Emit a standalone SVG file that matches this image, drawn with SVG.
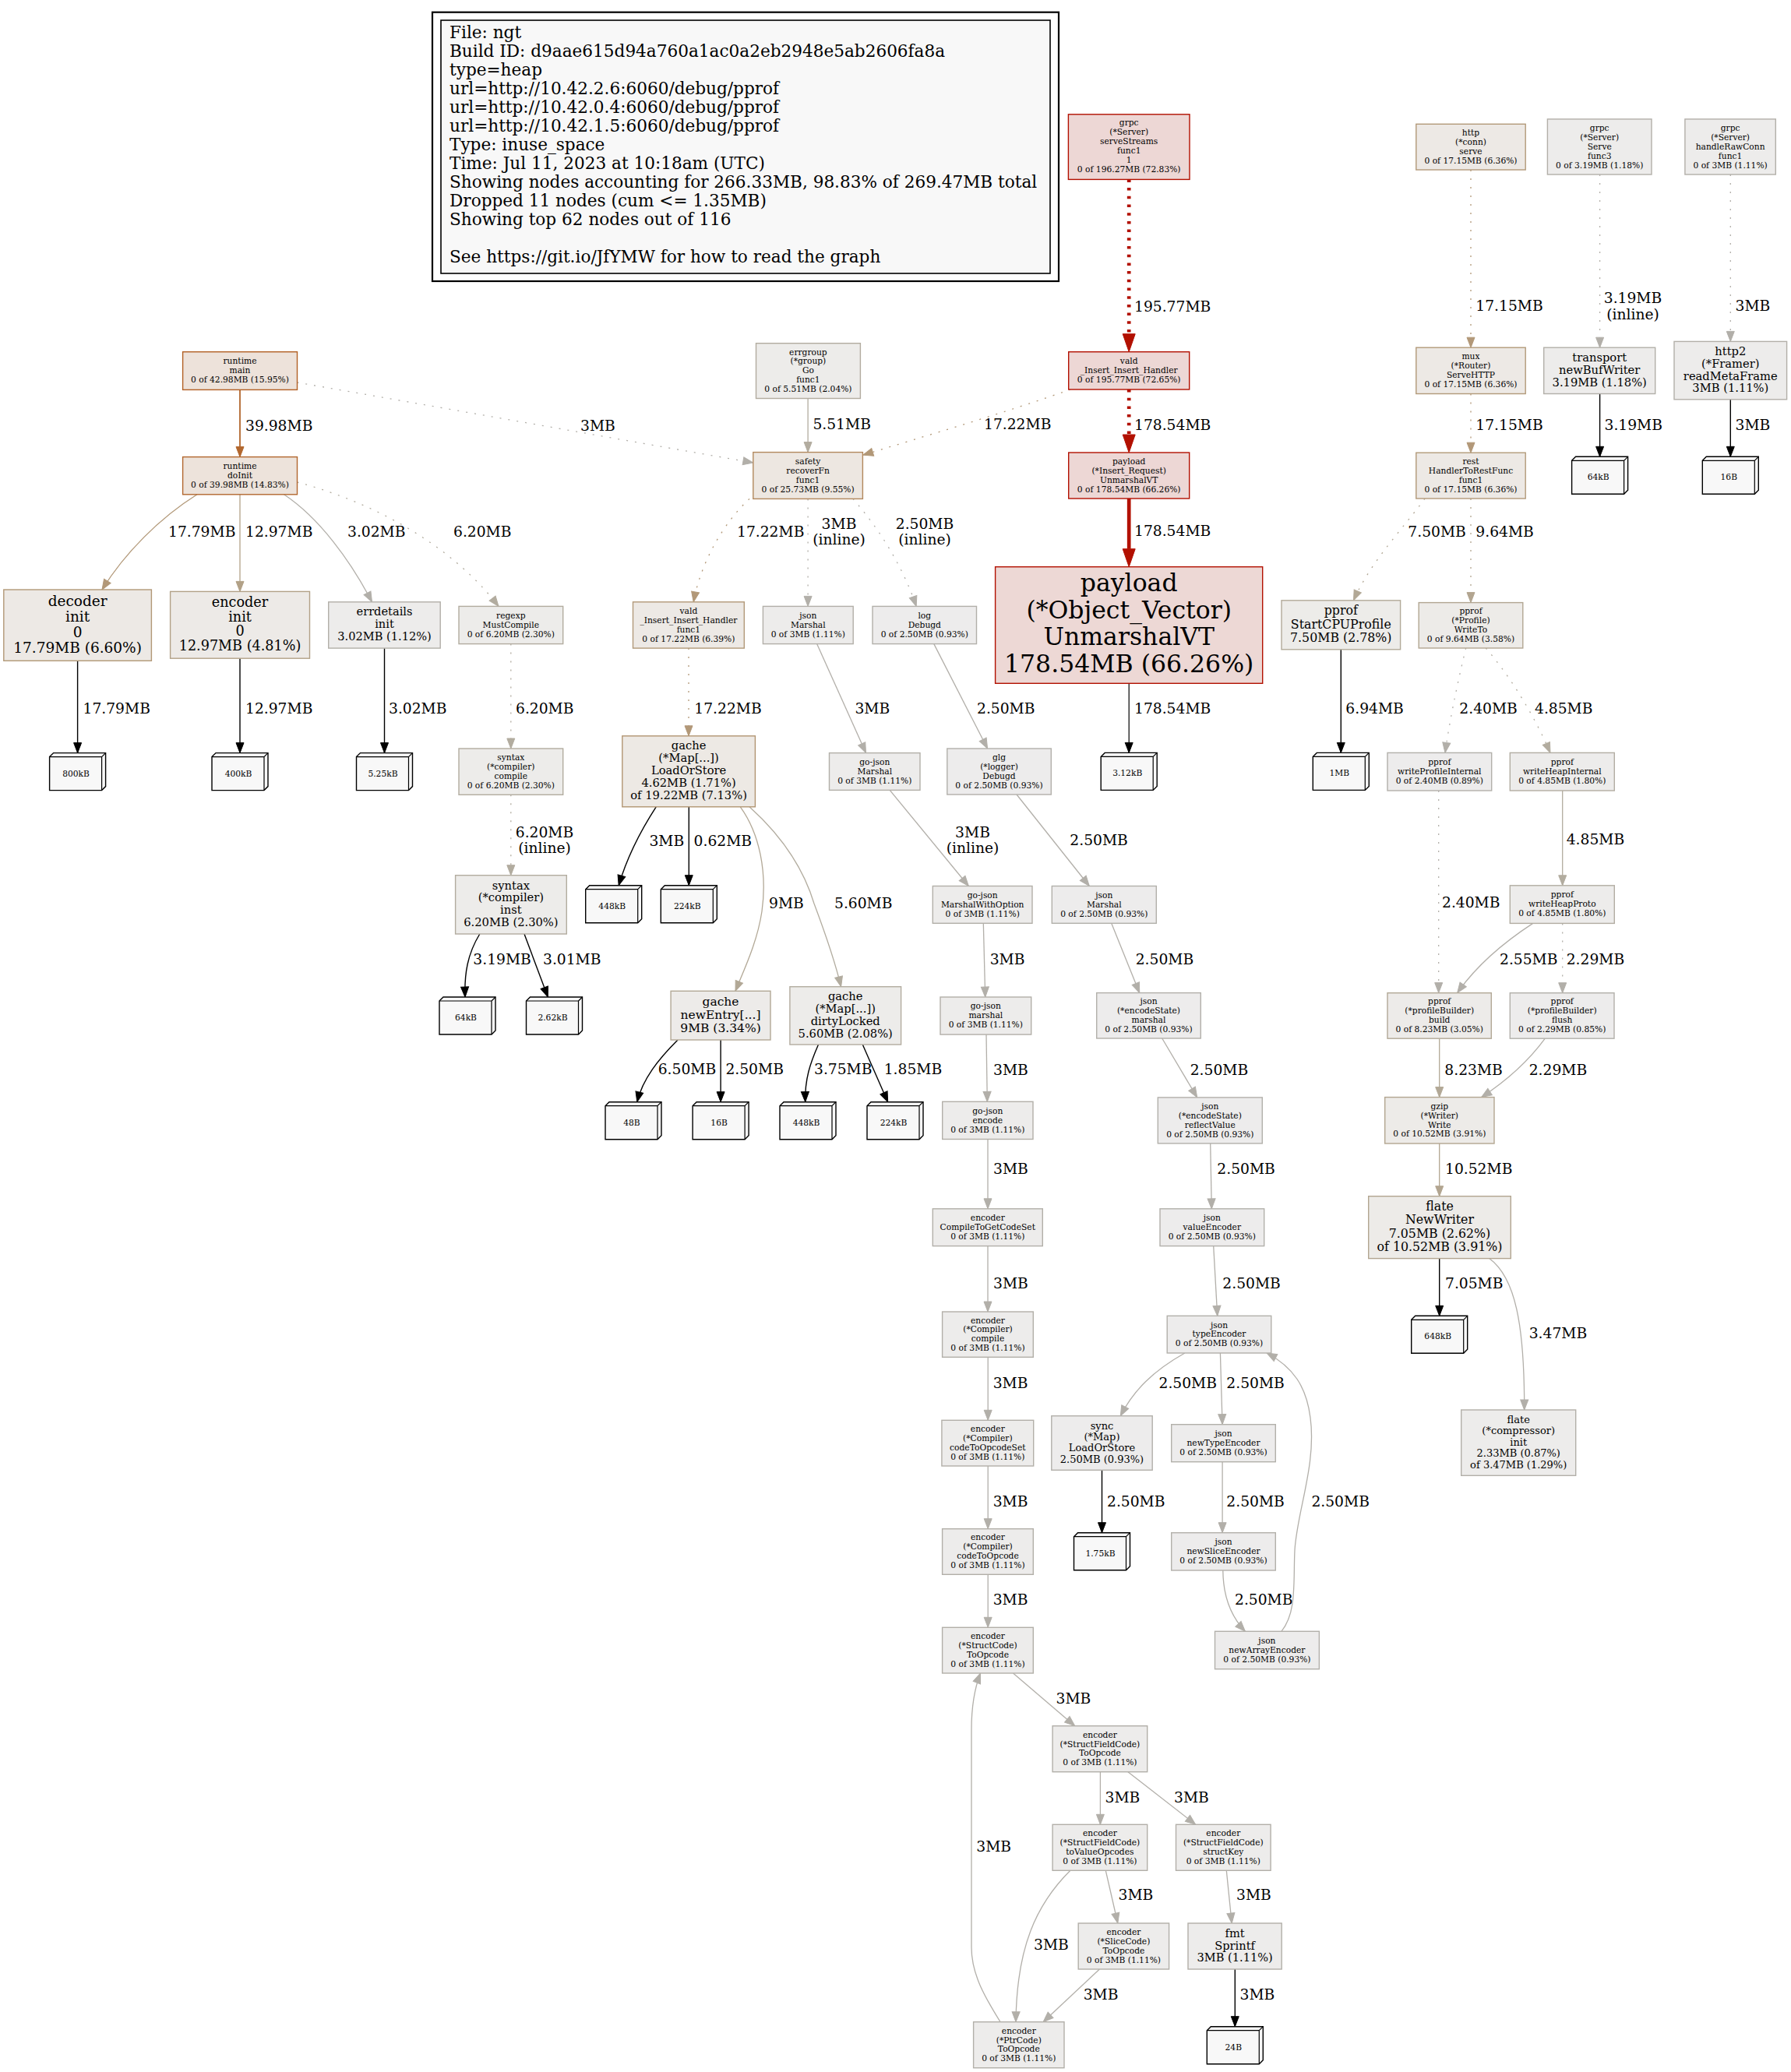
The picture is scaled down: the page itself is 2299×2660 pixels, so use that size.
<svg xmlns="http://www.w3.org/2000/svg" xmlns:xlink="http://www.w3.org/1999/xlink" width="2299" height="2660" viewBox="0 0 2299 2660">
<style>
text{font-family:"DejaVu Serif",serif;fill:#000}
.n{stroke-width:1.4}
.s{font-size:10.7px;text-anchor:middle}
.l{font-size:18.7px}
.lm{font-size:18.7px;text-anchor:middle}
.lg{font-size:21.6px}
.e{fill:none;stroke-width:1.3}
.d{stroke-dasharray:2,9}
.dr{stroke-dasharray:3.5,7.2}
.k{stroke:#000;stroke-width:1.4;marker-end:url(#mk)}
.r{stroke:#b21000;stroke-width:4.7;marker-end:url(#mr)}
.o{stroke:#b2672e;stroke-width:1.8;marker-end:url(#mo)}
.t1{stroke:#b29878;marker-end:url(#mt1)}
.t2{stroke:#b2a187;marker-end:url(#mt2)}
.t3{stroke:#b2a896;marker-end:url(#mt3)}
.t4{stroke:#b2a590;marker-end:url(#mt4)}
.g{stroke:#b2afa9;marker-end:url(#mg)}
.g2{stroke:#b2ac9f;marker-end:url(#mg2)}
.nr{fill:#edd7d5;stroke:#b21000}
.no{fill:#ede2da;stroke:#b26024}
.no2{fill:#ede3db;stroke:#b2672e}
.ns{fill:#ede7e1;stroke:#b2885d}
.nt1{fill:#ede9e5;stroke:#b29979}
.nt2{fill:#edeae7;stroke:#b2a187}
.nt3{fill:#ede9e4;stroke:#b29572}
.nt4{fill:#edebe8;stroke:#b2a590}
.nt5{fill:#edebe9;stroke:#b2a896}
.ng{fill:#edeceb;stroke:#b2afa8}
.ng2{fill:#edecec;stroke:#b2b0aa}
.ng3{fill:#edecea;stroke:#b2ac9f}
.bx{fill:#f8f8f8;stroke:#000;stroke-width:1.4}
.bl{fill:none;stroke:#000;stroke-width:1.2}
</style>
<defs>
<marker id="mk" markerUnits="userSpaceOnUse" markerWidth="14" markerHeight="12" refX="13" refY="6" orient="auto" overflow="visible"><path d="M0,1 L13,6 L0,11 Z" fill="#000" stroke="#000" stroke-width="1"/></marker>
<marker id="mr" markerUnits="userSpaceOnUse" markerWidth="24" markerHeight="17" refX="0" refY="8" orient="auto" overflow="visible"><path d="M0,0 L23,8 L0,16 Z" fill="#b21000" stroke="#b21000" stroke-width="1"/></marker>
<marker id="mo" markerUnits="userSpaceOnUse" markerWidth="14" markerHeight="12" refX="13" refY="6" orient="auto" overflow="visible"><path d="M0,1 L13,6 L0,11 Z" fill="#b2672e" stroke="#b2672e" stroke-width="1"/></marker>
<marker id="mt1" markerUnits="userSpaceOnUse" markerWidth="14" markerHeight="12" refX="13" refY="6" orient="auto" overflow="visible"><path d="M0,1 L13,6 L0,11 Z" fill="#b29878" stroke="#b29878" stroke-width="1"/></marker>
<marker id="mt2" markerUnits="userSpaceOnUse" markerWidth="14" markerHeight="12" refX="13" refY="6" orient="auto" overflow="visible"><path d="M0,1 L13,6 L0,11 Z" fill="#b2a187" stroke="#b2a187" stroke-width="1"/></marker>
<marker id="mt3" markerUnits="userSpaceOnUse" markerWidth="14" markerHeight="12" refX="13" refY="6" orient="auto" overflow="visible"><path d="M0,1 L13,6 L0,11 Z" fill="#b2a896" stroke="#b2a896" stroke-width="1"/></marker>
<marker id="mt4" markerUnits="userSpaceOnUse" markerWidth="14" markerHeight="12" refX="13" refY="6" orient="auto" overflow="visible"><path d="M0,1 L13,6 L0,11 Z" fill="#b2a590" stroke="#b2a590" stroke-width="1"/></marker>
<marker id="mg" markerUnits="userSpaceOnUse" markerWidth="14" markerHeight="12" refX="13" refY="6" orient="auto" overflow="visible"><path d="M0,1 L13,6 L0,11 Z" fill="#b2afa9" stroke="#b2afa9" stroke-width="1"/></marker>
<marker id="mg2" markerUnits="userSpaceOnUse" markerWidth="14" markerHeight="12" refX="13" refY="6" orient="auto" overflow="visible"><path d="M0,1 L13,6 L0,11 Z" fill="#b2ac9f" stroke="#b2ac9f" stroke-width="1"/></marker>
<g id="b3"><path class="bx" d="M0,5 L5,0 L72,0 L72,43 L67,48 L0,48 Z"/><path class="bl" d="M0,5 L67,5 L67,48 M67,5 L72,0"/></g>
</defs>
<rect width="2299" height="2660" fill="#fff"/>

<g id="legend">
<rect x="555" y="15.7" width="804" height="345.3" fill="#fff" stroke="#000" stroke-width="2.2"/>
<rect x="566" y="26" width="782" height="325" fill="#f8f8f8" stroke="#000" stroke-width="1.6"/>
<text class="lg" x="577" y="49">File: ngt</text>
<text class="lg" x="577" y="73">Build ID: d9aae615d94a760a1ac0a2eb2948e5ab2606fa8a</text>
<text class="lg" x="577" y="97">type=heap</text>
<text class="lg" x="577" y="121">url=http://10.42.2.6:6060/debug/pprof</text>
<text class="lg" x="577" y="145">url=http://10.42.0.4:6060/debug/pprof</text>
<text class="lg" x="577" y="169">url=http://10.42.1.5:6060/debug/pprof</text>
<text class="lg" x="577" y="193">Type: inuse_space</text>
<text class="lg" x="577" y="217">Time: Jul 11, 2023 at 10:18am (UTC)</text>
<text class="lg" x="577" y="241">Showing nodes accounting for 266.33MB, 98.83% of 269.47MB total</text>
<text class="lg" x="577" y="265">Dropped 11 nodes (cum &lt;= 1.35MB)</text>
<text class="lg" x="577" y="289">Showing top 62 nodes out of 116</text>
<text class="lg" x="577" y="337">See https://git.io/JfYMW for how to read the graph</text>
</g>

<g id="connectors">
<path class="e r dr" d="M1449.2,230.4 L1449.2,428.7"/><text class="l" x="1456" y="400">195.77MB</text>
<path class="e r dr" d="M1449.2,500 L1449.2,558"/><text class="l" x="1456" y="551.7">178.54MB</text>
<path class="e r" d="M1449.2,640 L1449.2,704.7"/><text class="l" x="1456" y="688.4">178.54MB</text>
<path class="e k" style="stroke-width:1.2" d="M1449.2,877.3 L1449.2,966.4"/><text class="l" x="1456" y="916.2">178.54MB</text>
<path class="e o" d="M308,500.4 L308,586.6"/><text class="l" x="315" y="552.6">39.98MB</text>
<path class="e g d" d="M381.5,491 C560,522 800,565 966.8,594"/><text class="l" x="745" y="552.6">3MB</text>
<path class="e g2" d="M1037.1,511.5 L1037.1,580.6"/><text class="l" x="1043.4" y="551.4">5.51MB</text>
<path class="e t1 d" d="M1374,500 C1290,530 1180,562 1107.8,584.2"/><text class="l" x="1263" y="551.4">17.22MB</text>
<path class="e t1" d="M253,634.8 C205,665 160,710 131,757"/><text class="l" x="216" y="689">17.79MB</text>
<path class="e t2" d="M308,634.8 L308,759.4"/><text class="l" x="315" y="689">12.97MB</text>
<path class="e g" d="M364.5,634.8 C410,665 450,720 477.5,772.8"/><text class="l" x="446" y="689">3.02MB</text>
<path class="e g2 d" d="M381.5,619 C480,645 580,700 640,778.4"/><text class="l" x="582" y="689">6.20MB</text>
<path class="e k" d="M99.6,848.3 L99.6,966.6"/><text class="l" x="106.5" y="916">17.79MB</text>
<path class="e k" d="M308,845.2 L308,966.6"/><text class="l" x="315" y="916">12.97MB</text>
<path class="e k" d="M493.5,832.1 L493.5,966.6"/><text class="l" x="499" y="916">3.02MB</text>
<path class="e g2 d" d="M655.8,826.6 L655.8,961"/><text class="l" x="662" y="916">6.20MB</text>
<path class="e g2 d" d="M655.8,1020.3 L655.8,1123.7"/><text class="lm" x="699" y="1075">6.20MB</text><text class="lm" x="699" y="1095">(inline)</text>
<path class="e t1 d" d="M962,640.4 C930,670 900,720 890.2,772.8"/><text class="l" x="946" y="689">17.22MB</text>
<path class="e g d" d="M1037.1,640.4 L1037.1,778.4"/><text class="lm" x="1077" y="679">3MB</text><text class="lm" x="1077" y="699">(inline)</text>
<path class="e g d" d="M1094.8,640.4 C1130,680 1160,730 1176.2,778.4"/><text class="lm" x="1187" y="679">2.50MB</text><text class="lm" x="1187" y="699">(inline)</text>
<path class="e t1 d" d="M884,832.1 L884,944.8"/><text class="l" x="891.3" y="916">17.22MB</text>
<path class="e g" d="M1048.6,826.6 L1111.5,966.6"/><text class="l" x="1097.4" y="916">3MB</text>
<path class="e g" d="M1198.8,826.6 L1267.6,961"/><text class="l" x="1254" y="916">2.50MB</text>
<path class="e g" d="M1142.2,1014.4 L1243.3,1137.5"/><text class="lm" x="1248.5" y="1074.6">3MB</text><text class="lm" x="1248.5" y="1095.1">(inline)</text>
<path class="e g" d="M1305,1020 L1398.3,1137.5"/><text class="l" x="1373.3" y="1084.7">2.50MB</text>
<path class="e g" d="M1262.3,1185.3 L1264.7,1280"/><text class="l" x="1270.7" y="1237.5">3MB</text>
<path class="e g" d="M1426.7,1185.3 L1462.7,1274.6"/><text class="l" x="1457.7" y="1237.5">2.50MB</text>
<path class="e g" d="M1266,1328.1 L1267.3,1414.3"/><text class="l" x="1275" y="1379.5">3MB</text>
<path class="e g" d="M1491.7,1333 L1536.7,1408.9"/><text class="l" x="1527.7" y="1379.5">2.50MB</text>
<path class="e g" d="M1268,1462.5 L1268,1551.8"/><text class="l" x="1275" y="1506.7">3MB</text>
<path class="e g" d="M1553.7,1467.9 L1555.3,1551.8"/><text class="l" x="1562.3" y="1506.7">2.50MB</text>
<path class="e g" d="M1268,1599.6 L1268,1684"/><text class="l" x="1275" y="1654">3MB</text>
<path class="e g" d="M1557.7,1599.6 L1562.7,1689.3"/><text class="l" x="1569.3" y="1654">2.50MB</text>
<path class="e g" d="M1268.2,1742.3 L1268.2,1823.3"/><text class="l" x="1274.7" y="1781.7">3MB</text>
<path class="e g" d="M1268.2,1882 L1268.2,1962.7"/><text class="l" x="1274.7" y="1934">3MB</text>
<path class="e g" d="M1268.2,2021.3 L1268.2,2089.3"/><text class="l" x="1274.7" y="2060">3MB</text>
<path class="e g" d="M1520.9,1737 C1480,1760 1455,1785 1438.3,1817.7"/><text class="l" x="1487.5" y="1781.7">2.50MB</text>
<path class="e g" d="M1566.4,1737 L1569.1,1828.7"/><text class="l" x="1574.3" y="1781.7">2.50MB</text>
<path class="e k" d="M1414.5,1887.3 L1414.5,1967.7"/><text class="l" x="1421" y="1934">2.50MB</text>
<path class="e g" d="M1569.1,1876.7 L1569.1,1967.7"/><text class="l" x="1574.3" y="1934">2.50MB</text>
<path class="e g" d="M1569.8,2016 C1570,2050 1580,2075 1598.4,2094.3"/><text class="l" x="1585" y="2060">2.50MB</text>
<path class="e g" d="M1644.9,2094.3 C1665,2070 1660,2030 1662,1990 C1665,1940 1690,1880 1682,1820 C1677,1780 1660,1755 1626,1737"/><text class="l" x="1683.4" y="1934">2.50MB</text>
<path class="e g" d="M1300.5,2148 L1379.7,2215.7"/><text class="l" x="1355.6" y="2186.7">3MB</text>
<path class="e g" d="M1412.4,2274.7 L1412.4,2342.3"/><text class="l" x="1418.6" y="2314">3MB</text>
<path class="e g" d="M1447.9,2274.7 L1534.7,2342.3"/><text class="l" x="1507.1" y="2314">3MB</text>
<path class="e g" d="M1419.3,2401.3 L1434.8,2469"/><text class="l" x="1435.5" y="2439.4">3MB</text>
<path class="e g" d="M1373.9,2401.3 C1330,2445 1305,2500 1304,2595.7"/><text class="l" x="1327" y="2503.4">3MB</text>
<path class="e g" d="M1574.3,2401.3 L1581.2,2469"/><text class="l" x="1587" y="2439.4">3MB</text>
<path class="e g" d="M1411.4,2528 L1339.1,2595.7"/><text class="l" x="1390.7" y="2566.7">3MB</text>
<path class="e k" d="M1585.3,2528 L1585.3,2601.7"/><text class="l" x="1591.5" y="2566.7">3MB</text>
<path class="e g" d="M1284,2595.7 C1265,2565 1247,2535 1247,2500 L1247,2220 C1247,2190 1252,2165 1258.5,2148"/><text class="l" x="1253.3" y="2376.7">3MB</text>
<path class="e t1 d" d="M1888,218 L1888,446.2"/><text class="l" x="1894.3" y="399.2">17.15MB</text>
<path class="e t1 d" d="M1888,505.5 L1888,581.2"/><text class="l" x="1894.3" y="551.7">17.15MB</text>
<path class="e g d" d="M2053.6,224 L2053.6,446.2"/><text class="lm" x="2096" y="389">3.19MB</text><text class="lm" x="2096" y="409.7">(inline)</text>
<path class="e g d" d="M2221.3,224 L2221.3,438.4"/><text class="l" x="2227.6" y="399.2">3MB</text>
<path class="e k" d="M2053.6,505.5 L2053.6,586.3"/><text class="l" x="2059.5" y="551.7">3.19MB</text>
<path class="e k" d="M2221.3,512.8 L2221.3,586.3"/><text class="l" x="2227.6" y="551.7">3MB</text>
<path class="e t3 d" d="M1829,640 C1800,680 1760,720 1737.5,770.8"/><text class="l" x="1807.3" y="688.5">7.50MB</text>
<path class="e t4 d" d="M1888,640 L1888,773.6"/><text class="l" x="1894.3" y="688.5">9.64MB</text>
<path class="e k" d="M1721.3,833.8 L1721.3,966.4"/><text class="l" x="1727.3" y="916">6.94MB</text>
<path class="e g d" d="M1881.7,832 C1870,880 1860,930 1855,966.4"/><text class="l" x="1873.3" y="916">2.40MB</text>
<path class="e g2 d" d="M1907.3,832 C1940,870 1970,920 1990,966.4"/><text class="l" x="1970" y="916">4.85MB</text>
<path class="e g2" d="M2005.7,1015 L2005.7,1136.8"/><text class="l" x="2010.7" y="1084.2">4.85MB</text>
<path class="e g d" d="M1846.7,1015 L1846.7,1274.6"/><text class="l" x="1851" y="1165.3">2.40MB</text>
<path class="e g" d="M1967.7,1185.4 C1930,1210 1895,1240 1870.7,1274.6"/><text class="l" x="1925" y="1237.7">2.55MB</text>
<path class="e g d" d="M2005.7,1185.4 L2005.7,1274.7"/><text class="l" x="2010.7" y="1237.7">2.29MB</text>
<path class="e t3" d="M1847.7,1333.2 L1847.7,1408.6"/><text class="l" x="1854.3" y="1379.5">8.23MB</text>
<path class="e g" d="M1983.3,1333.2 C1960,1365 1930,1390 1901.7,1408.6"/><text class="l" x="1962.7" y="1379.5">2.29MB</text>
<path class="e t4" d="M1847.7,1468 L1847.7,1535.7"/><text class="l" x="1855" y="1506.7">10.52MB</text>
<path class="e k" d="M1847.7,1615.6 L1847.7,1689.3"/><text class="l" x="1855" y="1654">7.05MB</text>
<path class="e g" d="M1911.7,1615.6 C1945,1640 1957,1700 1956.7,1810"/><text class="l" x="1962.7" y="1718">3.47MB</text>
<path class="e k" d="M842.2,1035.8 C820,1070 805,1100 794.2,1136.7"/><text class="l" x="833.4" y="1085.7">3MB</text>
<path class="e k" d="M884.3,1035.8 L884.3,1136.7"/><text class="l" x="890.6" y="1085.7">0.62MB</text>
<path class="e t3" d="M950.3,1035.8 C975,1070 985,1120 978,1170 C972,1210 955,1245 944,1272.3"/><text class="l" x="987" y="1165.7">9MB</text>
<path class="e g2" d="M962,1035.8 C1000,1070 1030,1110 1045,1160 C1060,1200 1072,1235 1079.6,1266.7"/><text class="l" x="1071" y="1165.7">5.60MB</text>
<path class="e k" d="M615.8,1199 C600,1225 596,1250 597,1280"/><text class="l" x="607.3" y="1237.7">3.19MB</text>
<path class="e k" d="M673,1199 L703.3,1280"/><text class="l" x="697" y="1237.7">3.01MB</text>
<path class="e k" d="M870,1335 C845,1360 825,1385 817.8,1414.7"/><text class="l" x="844.7" y="1379.4">6.50MB</text>
<path class="e k" d="M925.1,1335 L925.1,1414.7"/><text class="l" x="931.4" y="1379.4">2.50MB</text>
<path class="e k" d="M1050.5,1341 C1040,1365 1033,1385 1033.7,1414.7"/><text class="l" x="1045" y="1379.4">3.75MB</text>
<path class="e k" d="M1107.3,1341 L1139.7,1414.7"/><text class="l" x="1134.7" y="1379.4">1.85MB</text>
</g>

<g id="N_serveStreams"><rect class="n nr" x="1371.4" y="146.8" width="155.6" height="83.6"/>
<text class="s" x="1449.2" y="161">grpc</text><text class="s" x="1449.2" y="173">(*Server)</text><text class="s" x="1449.2" y="185">serveStreams</text><text class="s" x="1449.2" y="197">func1</text><text class="s" x="1449.2" y="209">1</text><text class="s" x="1449.2" y="221">0 of 196.27MB (72.83%)</text></g>
<g id="N_vald_handler"><rect class="n nr" x="1371.7" y="451.7" width="155" height="48.3"/>
<text class="s" x="1449.2" y="467">vald</text><text class="s" x="1449.2" y="479">_Insert_Insert_Handler</text><text class="s" x="1449.2" y="491">0 of 195.77MB (72.65%)</text></g>
<g id="N_insert_request"><rect class="n nr" x="1371.7" y="581" width="155" height="59"/>
<text class="s" x="1449.2" y="596">payload</text><text class="s" x="1449.2" y="608">(*Insert_Request)</text><text class="s" x="1449.2" y="620">UnmarshalVT</text><text class="s" x="1449.2" y="631.5">0 of 178.54MB (66.26%)</text></g>
<g id="N_object_vector"><rect class="n nr" x="1277.6" y="727.7" width="343.1" height="149.6" style="fill:#edd8d5"/>
<text x="1449.2" y="759" style="font-size:31.5px;text-anchor:middle">payload</text><text x="1449.2" y="793.5" style="font-size:31.5px;text-anchor:middle">(*Object_Vector)</text><text x="1449.2" y="828" style="font-size:31.5px;text-anchor:middle">UnmarshalVT</text><text x="1449.2" y="862.5" style="font-size:31.5px;text-anchor:middle">178.54MB (66.26%)</text></g>
<g id="N_runtime_main"><rect class="n no" x="234.6" y="451.7" width="146.9" height="48.7"/>
<text class="s" x="308" y="467.3">runtime</text><text class="s" x="308" y="479.2">main</text><text class="s" x="308" y="491.1">0 of 42.98MB (15.95%)</text></g>
<g id="N_runtime_doInit"><rect class="n no2" x="234.6" y="586.6" width="146.9" height="48.2"/>
<text class="s" x="308" y="602">runtime</text><text class="s" x="308" y="613.9">doInit</text><text class="s" x="308" y="625.8">0 of 39.98MB (14.83%)</text></g>
<g id="N_decoder_init"><rect class="n nt1" x="4.8" y="757" width="189.6" height="91.3" style="stroke:#b29877"/>
<text x="99.6" y="777.5" style="font-size:18.5px;text-anchor:middle">decoder</text><text x="99.6" y="797.5" style="font-size:18.5px;text-anchor:middle">init</text><text x="99.6" y="817.5" style="font-size:18.5px;text-anchor:middle">0</text><text x="99.6" y="837.5" style="font-size:18.5px;text-anchor:middle">17.79MB (6.60%)</text></g>
<g id="N_encoder_init"><rect class="n nt2" x="218.6" y="759.4" width="178.9" height="85.8"/>
<text x="308" y="779" style="font-size:17.6px;text-anchor:middle">encoder</text><text x="308" y="797.7" style="font-size:17.6px;text-anchor:middle">init</text><text x="308" y="816.4" style="font-size:17.6px;text-anchor:middle">0</text><text x="308" y="835.1" style="font-size:17.6px;text-anchor:middle">12.97MB (4.81%)</text></g>
<g id="N_errdetails"><rect class="n ng" x="421.7" y="772.8" width="143.5" height="59.3"/>
<text x="493.5" y="790.2" style="font-size:14.6px;text-anchor:middle">errdetails</text><text x="493.5" y="806.3" style="font-size:14.6px;text-anchor:middle">init</text><text x="493.5" y="822.4" style="font-size:14.6px;text-anchor:middle">3.02MB (1.12%)</text></g>
<g id="N_regexp"><rect class="n ng3" x="589" y="778.4" width="133.7" height="48.2"/>
<text class="s" x="655.8" y="793.8">regexp</text><text class="s" x="655.8" y="805.7">MustCompile</text><text class="s" x="655.8" y="817.6">0 of 6.20MB (2.30%)</text></g>
<g id="N_syntax_compile"><rect class="n ng3" x="589" y="961" width="133.7" height="59.3"/>
<text class="s" x="655.8" y="976">syntax</text><text class="s" x="655.8" y="987.9">(*compiler)</text><text class="s" x="655.8" y="999.8">compile</text><text class="s" x="655.8" y="1011.7">0 of 6.20MB (2.30%)</text></g>
<g id="N_syntax_inst"><rect class="n ng3" x="584.6" y="1123.7" width="142.7" height="75.3"/>
<text x="655.9" y="1141.5" style="font-size:14.7px;text-anchor:middle">syntax</text><text x="655.9" y="1157.4" style="font-size:14.7px;text-anchor:middle">(*compiler)</text><text x="655.9" y="1173.3" style="font-size:14.7px;text-anchor:middle">inst</text><text x="655.9" y="1189.2" style="font-size:14.7px;text-anchor:middle">6.20MB (2.30%)</text></g>
<g id="N_errgroup"><rect class="n ng3" x="970.5" y="440.7" width="133.9" height="70.8"/>
<text class="s" x="1037.4" y="455.5">errgroup</text><text class="s" x="1037.4" y="467.4">(*group)</text><text class="s" x="1037.4" y="479.3">Go</text><text class="s" x="1037.4" y="491.2">func1</text><text class="s" x="1037.4" y="503.1">0 of 5.51MB (2.04%)</text></g>
<g id="N_safety"><rect class="n ns" x="966.8" y="580.6" width="140.6" height="59.8"/>
<text class="s" x="1037.1" y="595.9">safety</text><text class="s" x="1037.1" y="607.8">recoverFn</text><text class="s" x="1037.1" y="619.7">func1</text><text class="s" x="1037.1" y="631.6">0 of 25.73MB (9.55%)</text></g>
<g id="N_vald_func1"><rect class="n nt1" x="812.5" y="772.8" width="142.8" height="59.3"/>
<text class="s" x="883.9" y="787.8">vald</text><text class="s" x="883.9" y="799.7">_Insert_Insert_Handler</text><text class="s" x="883.9" y="811.6">func1</text><text class="s" x="883.9" y="823.5">0 of 17.22MB (6.39%)</text></g>
<g id="N_json_Marshal1"><rect class="n ng" x="979.4" y="778.4" width="115.8" height="48.2"/>
<text class="s" x="1037.3" y="793.8">json</text><text class="s" x="1037.3" y="805.7">Marshal</text><text class="s" x="1037.3" y="817.6">0 of 3MB (1.11%)</text></g>
<g id="N_log"><rect class="n ng2" x="1120" y="778.4" width="133.5" height="48.2"/>
<text class="s" x="1186.8" y="793.8">log</text><text class="s" x="1186.8" y="805.7">Debugd</text><text class="s" x="1186.8" y="817.6">0 of 2.50MB (0.93%)</text></g>
<g id="N_gache_LoadOrStore"><rect class="n nt3" x="798.8" y="944.8" width="170.6" height="91"/>
<text x="884.1" y="962.3" style="font-size:14.7px;text-anchor:middle">gache</text><text x="884.1" y="978.3" style="font-size:14.7px;text-anchor:middle">(*Map[...])</text><text x="884.1" y="994.3" style="font-size:14.7px;text-anchor:middle">LoadOrStore</text><text x="884.1" y="1010.3" style="font-size:14.7px;text-anchor:middle">4.62MB (1.71%)</text><text x="884.1" y="1026.3" style="font-size:14.7px;text-anchor:middle">of 19.22MB (7.13%)</text></g>
<g id="N_gojson_Marshal"><rect class="n ng" x="1064.5" y="966.6" width="116.5" height="47.8"/>
<text class="s" x="1122.8" y="981.8">go-json</text><text class="s" x="1122.8" y="993.7">Marshal</text><text class="s" x="1122.8" y="1005.6">0 of 3MB (1.11%)</text></g>
<g id="N_glg"><rect class="n ng2" x="1215.8" y="961" width="133.5" height="59"/>
<text class="s" x="1282.5" y="975.9">glg</text><text class="s" x="1282.5" y="987.8">(*logger)</text><text class="s" x="1282.5" y="999.7">Debugd</text><text class="s" x="1282.5" y="1011.6">0 of 2.50MB (0.93%)</text></g>
<g id="N_newEntry"><rect class="n nt5" x="861.1" y="1272.3" width="127.9" height="62.7"/>
<text x="925" y="1291" style="font-size:15.5px;text-anchor:middle">gache</text><text x="925" y="1307.8" style="font-size:15.5px;text-anchor:middle">newEntry[...]</text><text x="925" y="1324.6" style="font-size:15.5px;text-anchor:middle">9MB (3.34%)</text></g>
<g id="N_dirtyLocked"><rect class="n ng3" x="1013.9" y="1266.7" width="142.7" height="74.3"/>
<text x="1085.2" y="1283.8" style="font-size:14.7px;text-anchor:middle">gache</text><text x="1085.2" y="1299.8" style="font-size:14.7px;text-anchor:middle">(*Map[...])</text><text x="1085.2" y="1315.8" style="font-size:14.7px;text-anchor:middle">dirtyLocked</text><text x="1085.2" y="1331.8" style="font-size:14.7px;text-anchor:middle">5.60MB (2.08%)</text></g>
<g id="N_http_serve"><rect class="n nt1" x="1817.8" y="159.3" width="140.4" height="58.7"/>
<text class="s" x="1888" y="174">http</text><text class="s" x="1888" y="185.9">(*conn)</text><text class="s" x="1888" y="197.8">serve</text><text class="s" x="1888" y="209.7">0 of 17.15MB (6.36%)</text></g>
<g id="N_grpc_Serve"><rect class="n ng" x="1986.4" y="152.9" width="133.6" height="71.1"/>
<text class="s" x="2053.2" y="167.9">grpc</text><text class="s" x="2053.2" y="179.8">(*Server)</text><text class="s" x="2053.2" y="191.7">Serve</text><text class="s" x="2053.2" y="203.6">func3</text><text class="s" x="2053.2" y="215.5">0 of 3.19MB (1.18%)</text></g>
<g id="N_grpc_handleRawConn"><rect class="n ng" x="2162.9" y="152.9" width="116.4" height="71.1"/>
<text class="s" x="2221.1" y="167.9">grpc</text><text class="s" x="2221.1" y="179.8">(*Server)</text><text class="s" x="2221.1" y="191.7">handleRawConn</text><text class="s" x="2221.1" y="203.6">func1</text><text class="s" x="2221.1" y="215.5">0 of 3MB (1.11%)</text></g>
<g id="N_mux"><rect class="n nt1" x="1817.8" y="446.2" width="140.4" height="59.3"/>
<text class="s" x="1888" y="461.2">mux</text><text class="s" x="1888" y="473.1">(*Router)</text><text class="s" x="1888" y="485">ServeHTTP</text><text class="s" x="1888" y="496.9">0 of 17.15MB (6.36%)</text></g>
<g id="N_transport"><rect class="n ng" x="1981.7" y="446.2" width="143" height="59.3"/>
<text x="2053.2" y="463.8" style="font-size:14.7px;text-anchor:middle">transport</text><text x="2053.2" y="479.7" style="font-size:14.7px;text-anchor:middle">newBufWriter</text><text x="2053.2" y="495.6" style="font-size:14.7px;text-anchor:middle">3.19MB (1.18%)</text></g>
<g id="N_http2"><rect class="n ng" x="2149" y="438.4" width="144.6" height="74.4"/>
<text x="2221.3" y="455.7" style="font-size:14.7px;text-anchor:middle">http2</text><text x="2221.3" y="471.6" style="font-size:14.7px;text-anchor:middle">(*Framer)</text><text x="2221.3" y="487.5" style="font-size:14.7px;text-anchor:middle">readMetaFrame</text><text x="2221.3" y="503.4" style="font-size:14.7px;text-anchor:middle">3MB (1.11%)</text></g>
<g id="N_rest"><rect class="n nt1" x="1817.8" y="581.2" width="140.4" height="58.8"/>
<text class="s" x="1888" y="596">rest</text><text class="s" x="1888" y="607.9">HandlerToRestFunc</text><text class="s" x="1888" y="619.8">func1</text><text class="s" x="1888" y="631.7">0 of 17.15MB (6.36%)</text></g>
<g id="N_StartCPUProfile"><rect class="n nt5" x="1645" y="770.8" width="152.6" height="63" style="fill:#edece9;stroke:#b2aa99"/>
<text x="1721.3" y="789.1" style="font-size:15.8px;text-anchor:middle">pprof</text><text x="1721.3" y="806.6" style="font-size:15.8px;text-anchor:middle">StartCPUProfile</text><text x="1721.3" y="824.1" style="font-size:15.8px;text-anchor:middle">7.50MB (2.78%)</text></g>
<g id="N_WriteTo"><rect class="n nt4" x="1821.2" y="773.6" width="133.6" height="58.4" style="stroke:#b2a692"/>
<text class="s" x="1888" y="788.2">pprof</text><text class="s" x="1888" y="800.1">(*Profile)</text><text class="s" x="1888" y="812">WriteTo</text><text class="s" x="1888" y="823.9">0 of 9.64MB (3.58%)</text></g>
<g id="N_writeProfileInternal"><rect class="n ng2" x="1781" y="966.4" width="133.7" height="48.6"/>
<text class="s" x="1847.8" y="982">pprof</text><text class="s" x="1847.8" y="993.9">writeProfileInternal</text><text class="s" x="1847.8" y="1005.8">0 of 2.40MB (0.89%)</text></g>
<g id="N_writeHeapInternal"><rect class="n ng3" x="1938.3" y="966.4" width="134" height="48.6" style="fill:#edeceb;stroke:#b2ada2"/>
<text class="s" x="2005.3" y="982">pprof</text><text class="s" x="2005.3" y="993.9">writeHeapInternal</text><text class="s" x="2005.3" y="1005.8">0 of 4.85MB (1.80%)</text></g>
<g id="N_writeHeapProto"><rect class="n ng3" x="1938.3" y="1136.8" width="134" height="48.6" style="fill:#edeceb;stroke:#b2ada2"/>
<text class="s" x="2005.3" y="1152.4">pprof</text><text class="s" x="2005.3" y="1164.3">writeHeapProto</text><text class="s" x="2005.3" y="1176.2">0 of 4.85MB (1.80%)</text></g>
<g id="N_build"><rect class="n nt5" x="1781" y="1274.7" width="133.3" height="58.5"/>
<text class="s" x="1847.7" y="1289.3">pprof</text><text class="s" x="1847.7" y="1301.2">(*profileBuilder)</text><text class="s" x="1847.7" y="1313.1">build</text><text class="s" x="1847.7" y="1325">0 of 8.23MB (3.05%)</text></g>
<g id="N_flush"><rect class="n ng2" x="1938.3" y="1274.7" width="133.7" height="58.5"/>
<text class="s" x="2005.2" y="1289.3">pprof</text><text class="s" x="2005.2" y="1301.2">(*profileBuilder)</text><text class="s" x="2005.2" y="1313.1">flush</text><text class="s" x="2005.2" y="1325">0 of 2.29MB (0.85%)</text></g>
<g id="N_gzip"><rect class="n nt4" x="1777.7" y="1408.6" width="140.3" height="59.4"/>
<text class="s" x="1847.8" y="1423.7">gzip</text><text class="s" x="1847.8" y="1435.6">(*Writer)</text><text class="s" x="1847.8" y="1447.5">Write</text><text class="s" x="1847.8" y="1459.4">0 of 10.52MB (3.91%)</text></g>
<g id="N_NewWriter"><rect class="n nt4" x="1756.7" y="1535.7" width="182.6" height="79.9"/>
<text x="1848" y="1554.2" style="font-size:15.8px;text-anchor:middle">flate</text><text x="1848" y="1571.4" style="font-size:15.8px;text-anchor:middle">NewWriter</text><text x="1848" y="1588.6" style="font-size:15.8px;text-anchor:middle">7.05MB (2.62%)</text><text x="1848" y="1605.8" style="font-size:15.8px;text-anchor:middle">of 10.52MB (3.91%)</text></g>
<g id="N_compressor_init"><rect class="n ng" x="1875.7" y="1810" width="147" height="84.3"/>
<text x="1949.2" y="1826.9" style="font-size:13px;text-anchor:middle">flate</text><text x="1949.2" y="1841.3" style="font-size:13px;text-anchor:middle">(*compressor)</text><text x="1949.2" y="1855.7" style="font-size:13px;text-anchor:middle">init</text><text x="1949.2" y="1870.1" style="font-size:13px;text-anchor:middle">2.33MB (0.87%)</text><text x="1949.2" y="1884.5" style="font-size:13px;text-anchor:middle">of 3.47MB (1.29%)</text></g>
<g id="N_MarshalWithOption"><rect class="n ng" x="1197.3" y="1137.5" width="127.7" height="47.8"/>
<text class="s" x="1261.2" y="1152.7">go-json</text><text class="s" x="1261.2" y="1164.6">MarshalWithOption</text><text class="s" x="1261.2" y="1176.5">0 of 3MB (1.11%)</text></g>
<g id="N_json_Marshal2"><rect class="n ng2" x="1350.3" y="1137.5" width="134" height="47.8"/>
<text class="s" x="1417.3" y="1152.7">json</text><text class="s" x="1417.3" y="1164.6">Marshal</text><text class="s" x="1417.3" y="1176.5">0 of 2.50MB (0.93%)</text></g>
<g id="N_gojson_marshal"><rect class="n ng" x="1207" y="1280" width="116.7" height="48.1"/>
<text class="s" x="1265.3" y="1295.4">go-json</text><text class="s" x="1265.3" y="1307.3">marshal</text><text class="s" x="1265.3" y="1319.2">0 of 3MB (1.11%)</text></g>
<g id="N_encodeState_marshal"><rect class="n ng2" x="1407.7" y="1274.6" width="133.6" height="58.4"/>
<text class="s" x="1474.5" y="1289.2">json</text><text class="s" x="1474.5" y="1301.1">(*encodeState)</text><text class="s" x="1474.5" y="1313">marshal</text><text class="s" x="1474.5" y="1324.9">0 of 2.50MB (0.93%)</text></g>
<g id="N_gojson_encode"><rect class="n ng" x="1209.7" y="1414.3" width="116.3" height="48.2"/>
<text class="s" x="1267.8" y="1429.7">go-json</text><text class="s" x="1267.8" y="1441.6">encode</text><text class="s" x="1267.8" y="1453.5">0 of 3MB (1.11%)</text></g>
<g id="N_reflectValue"><rect class="n ng2" x="1486.3" y="1408.9" width="134" height="59"/>
<text class="s" x="1553.3" y="1423.8">json</text><text class="s" x="1553.3" y="1435.7">(*encodeState)</text><text class="s" x="1553.3" y="1447.6">reflectValue</text><text class="s" x="1553.3" y="1459.5">0 of 2.50MB (0.93%)</text></g>
<g id="N_CompileToGetCodeSet"><rect class="n ng" x="1197.3" y="1551.8" width="141" height="47.8"/>
<text class="s" x="1267.8" y="1567">encoder</text><text class="s" x="1267.8" y="1578.9">CompileToGetCodeSet</text><text class="s" x="1267.8" y="1590.8">0 of 3MB (1.11%)</text></g>
<g id="N_valueEncoder"><rect class="n ng2" x="1489" y="1551.8" width="133.7" height="47.8"/>
<text class="s" x="1555.8" y="1567">json</text><text class="s" x="1555.8" y="1578.9">valueEncoder</text><text class="s" x="1555.8" y="1590.8">0 of 2.50MB (0.93%)</text></g>
<g id="N_compile"><rect class="n ng" x="1209.6" y="1684" width="116.7" height="58.3"/>
<text class="s" x="1268" y="1698.5">encoder</text><text class="s" x="1268" y="1710.4">(*Compiler)</text><text class="s" x="1268" y="1722.3">compile</text><text class="s" x="1268" y="1734.2">0 of 3MB (1.11%)</text></g>
<g id="N_typeEncoder"><rect class="n ng2" x="1498.2" y="1689.3" width="133.6" height="47.7"/>
<text class="s" x="1565" y="1704.5">json</text><text class="s" x="1565" y="1716.4">typeEncoder</text><text class="s" x="1565" y="1728.3">0 of 2.50MB (0.93%)</text></g>
<g id="N_sync_LoadOrStore"><rect class="n ng2" x="1349.8" y="1817.7" width="129.4" height="69.6"/>
<text x="1414.5" y="1834.6" style="font-size:13px;text-anchor:middle">sync</text><text x="1414.5" y="1848.9" style="font-size:13px;text-anchor:middle">(*Map)</text><text x="1414.5" y="1863.2" style="font-size:13px;text-anchor:middle">LoadOrStore</text><text x="1414.5" y="1877.5" style="font-size:13px;text-anchor:middle">2.50MB (0.93%)</text></g>
<g id="N_codeToOpcodeSet"><rect class="n ng" x="1208.9" y="1823.3" width="117.8" height="58.7"/>
<text class="s" x="1267.8" y="1838">encoder</text><text class="s" x="1267.8" y="1849.9">(*Compiler)</text><text class="s" x="1267.8" y="1861.8">codeToOpcodeSet</text><text class="s" x="1267.8" y="1873.7">0 of 3MB (1.11%)</text></g>
<g id="N_newTypeEncoder"><rect class="n ng2" x="1503.7" y="1828.7" width="133.6" height="48"/>
<text class="s" x="1570.5" y="1844">json</text><text class="s" x="1570.5" y="1855.9">newTypeEncoder</text><text class="s" x="1570.5" y="1867.8">0 of 2.50MB (0.93%)</text></g>
<g id="N_codeToOpcode"><rect class="n ng" x="1209.6" y="1962.7" width="116.7" height="58.6"/>
<text class="s" x="1268" y="1977.4">encoder</text><text class="s" x="1268" y="1989.3">(*Compiler)</text><text class="s" x="1268" y="2001.2">codeToOpcode</text><text class="s" x="1268" y="2013.1">0 of 3MB (1.11%)</text></g>
<g id="N_newSliceEncoder"><rect class="n ng2" x="1503.7" y="1967.7" width="133.6" height="48.3"/>
<text class="s" x="1570.5" y="1983.2">json</text><text class="s" x="1570.5" y="1995.1">newSliceEncoder</text><text class="s" x="1570.5" y="2007">0 of 2.50MB (0.93%)</text></g>
<g id="N_StructCode"><rect class="n ng" x="1209.6" y="2089.3" width="116.7" height="58.7"/>
<text class="s" x="1268" y="2104">encoder</text><text class="s" x="1268" y="2115.9">(*StructCode)</text><text class="s" x="1268" y="2127.8">ToOpcode</text><text class="s" x="1268" y="2139.7">0 of 3MB (1.11%)</text></g>
<g id="N_newArrayEncoder"><rect class="n ng2" x="1559.5" y="2094.3" width="133.9" height="48.4"/>
<text class="s" x="1626.4" y="2109.8">json</text><text class="s" x="1626.4" y="2121.7">newArrayEncoder</text><text class="s" x="1626.4" y="2133.6">0 of 2.50MB (0.93%)</text></g>
<g id="N_StructFieldCode"><rect class="n ng" x="1351.1" y="2215.7" width="121.6" height="59"/>
<text class="s" x="1411.9" y="2230.6">encoder</text><text class="s" x="1411.9" y="2242.5">(*StructFieldCode)</text><text class="s" x="1411.9" y="2254.4">ToOpcode</text><text class="s" x="1411.9" y="2266.3">0 of 3MB (1.11%)</text></g>
<g id="N_toValueOpcodes"><rect class="n ng" x="1351.1" y="2342.3" width="121.6" height="59"/>
<text class="s" x="1411.9" y="2357.2">encoder</text><text class="s" x="1411.9" y="2369.1">(*StructFieldCode)</text><text class="s" x="1411.9" y="2381">toValueOpcodes</text><text class="s" x="1411.9" y="2392.9">0 of 3MB (1.11%)</text></g>
<g id="N_structKey"><rect class="n ng" x="1509.5" y="2342.3" width="121.6" height="59"/>
<text class="s" x="1570.3" y="2357.2">encoder</text><text class="s" x="1570.3" y="2369.1">(*StructFieldCode)</text><text class="s" x="1570.3" y="2381">structKey</text><text class="s" x="1570.3" y="2392.9">0 of 3MB (1.11%)</text></g>
<g id="N_SliceCode"><rect class="n ng" x="1384.2" y="2469" width="116.4" height="59"/>
<text class="s" x="1442.4" y="2483.9">encoder</text><text class="s" x="1442.4" y="2495.8">(*SliceCode)</text><text class="s" x="1442.4" y="2507.7">ToOpcode</text><text class="s" x="1442.4" y="2519.6">0 of 3MB (1.11%)</text></g>
<g id="N_Sprintf"><rect class="n ng" x="1525" y="2469" width="120.2" height="59"/>
<text x="1585.1" y="2486.9" style="font-size:14.6px;text-anchor:middle">fmt</text><text x="1585.1" y="2502.5" style="font-size:14.6px;text-anchor:middle">Sprintf</text><text x="1585.1" y="2518.2" style="font-size:14.6px;text-anchor:middle">3MB (1.11%)</text></g>
<g id="N_PtrCode"><rect class="n ng" x="1249.6" y="2595.7" width="116.4" height="59"/>
<text class="s" x="1307.8" y="2610.6">encoder</text><text class="s" x="1307.8" y="2622.5">(*PtrCode)</text><text class="s" x="1307.8" y="2634.4">ToOpcode</text><text class="s" x="1307.8" y="2646.3">0 of 3MB (1.11%)</text></g>

<g id="tags">
<g id="T_800kB"><use xlink:href="#b3" x="63.6" y="966.6"/><text class="s" x="97.6" y="996.6">800kB</text></g>
<g id="T_400kB"><use xlink:href="#b3" x="272" y="966.6"/><text class="s" x="306" y="996.6">400kB</text></g>
<g id="T_5_25kB"><use xlink:href="#b3" x="457.5" y="966.6"/><text class="s" x="491.5" y="996.6">5.25kB</text></g>
<g id="T_3_12kB"><use xlink:href="#b3" x="1413.2" y="966.4"/><text class="s" x="1447.2" y="996.4">3.12kB</text></g>
<g id="T_1MB"><use xlink:href="#b3" x="1685.3" y="966.4"/><text class="s" x="1719.3" y="996.4">1MB</text></g>
<g id="T_64kB_t"><use xlink:href="#b3" x="2017.6" y="586.3"/><text class="s" x="2051.6" y="616.3">64kB</text></g>
<g id="T_16B_h"><use xlink:href="#b3" x="2185.3" y="586.3"/><text class="s" x="2219.3" y="616.3">16B</text></g>
<g id="T_448kB_a"><use xlink:href="#b3" x="751.7" y="1136.7"/><text class="s" x="785.7" y="1166.7">448kB</text></g>
<g id="T_224kB_a"><use xlink:href="#b3" x="848.3" y="1136.7"/><text class="s" x="882.3" y="1166.7">224kB</text></g>
<g id="T_64kB_s"><use xlink:href="#b3" x="564" y="1280"/><text class="s" x="598" y="1310">64kB</text></g>
<g id="T_2_62kB"><use xlink:href="#b3" x="675.5" y="1280"/><text class="s" x="709.5" y="1310">2.62kB</text></g>
<g id="T_48B"><use xlink:href="#b3" x="777" y="1414.7"/><text class="s" x="811" y="1444.7">48B</text></g>
<g id="T_16B_g"><use xlink:href="#b3" x="889.1" y="1414.7"/><text class="s" x="923.1" y="1444.7">16B</text></g>
<g id="T_448kB_b"><use xlink:href="#b3" x="1001" y="1414.7"/><text class="s" x="1035" y="1444.7">448kB</text></g>
<g id="T_224kB_b"><use xlink:href="#b3" x="1113" y="1414.7"/><text class="s" x="1147" y="1444.7">224kB</text></g>
<g id="T_648kB"><use xlink:href="#b3" x="1811.7" y="1689.3"/><text class="s" x="1845.7" y="1719.3">648kB</text></g>
<g id="T_1_75kB"><use xlink:href="#b3" x="1378.5" y="1967.7"/><text class="s" x="1412.5" y="1997.7">1.75kB</text></g>
<g id="T_24B"><use xlink:href="#b3" x="1549.3" y="2601.7"/><text class="s" x="1583.3" y="2631.7">24B</text></g>
</g>
</svg>
